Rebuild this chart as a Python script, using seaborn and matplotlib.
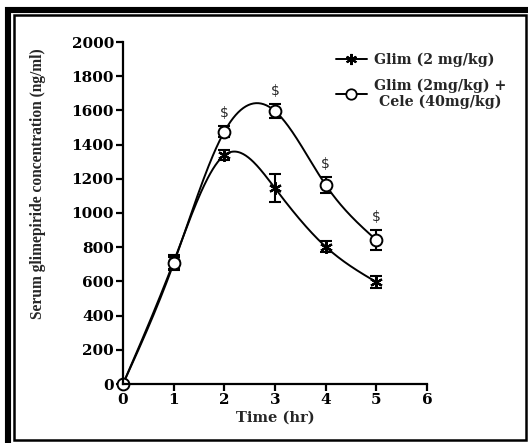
import numpy as np
import pandas as pd
import matplotlib
matplotlib.use("Agg")
import matplotlib.pyplot as plt
import seaborn as sns
from matplotlib.lines import Line2D
from matplotlib.patches import Rectangle

# ---- data ----
time_hr = [0, 1, 2, 3, 4, 5]
glim_mean = [0, 715, 1338, 1145, 803, 596]
glim_err = [0, 40, 30, 83, 33, 37]
combo_mean = [0, 705, 1476, 1596, 1164, 842]
combo_err = [0, 40, 33, 43, 47, 60]
sig_marks = ["", "", "$", "$", "$", "$"]
series_names = ["Glim (2 mg/kg)", "Glim (2mg/kg) +\nCele (40mg/kg)"]
x_ticks = [0, 1, 2, 3, 4, 5, 6]
y_ticks = [0, 200, 400, 600, 800, 1000, 1200, 1400, 1600, 1800, 2000]


def natural_spline(x, y, xs):
    x = np.asarray(x, float)
    y = np.asarray(y, float)
    n = len(x)
    h = np.diff(x)
    A = np.zeros((n, n))
    b = np.zeros(n)
    A[0, 0] = 1
    A[-1, -1] = 1
    for i in range(1, n - 1):
        A[i, i - 1] = h[i - 1]
        A[i, i] = 2 * (h[i - 1] + h[i])
        A[i, i + 1] = h[i]
        b[i] = 6 * ((y[i + 1] - y[i]) / h[i] - (y[i] - y[i - 1]) / h[i - 1])
    M = np.linalg.solve(A, b)
    out = np.empty_like(xs)
    for k, xv in enumerate(xs):
        i = min(max(np.searchsorted(x, xv) - 1, 0), n - 2)
        t0 = x[i + 1] - xv
        t1 = xv - x[i]
        out[k] = (M[i] * t0 ** 3 + M[i + 1] * t1 ** 3) / (6 * h[i]) + \
                 (y[i] / h[i] - M[i] * h[i] / 6) * t0 + \
                 (y[i + 1] / h[i] - M[i + 1] * h[i] / 6) * t1
    return out


sns.set_style("ticks")
plt.rcParams["font.family"] = ["DejaVu Serif"]

W, H = 528, 443
fig = plt.figure(figsize=(W / 100, H / 100), dpi=100)
ax = fig.add_axes([123 / W, 1 - 384 / H, (427 - 123) / W, (384 - 42) / H])

xs = np.linspace(0, 5, 300)
curve = pd.DataFrame({
    "x": np.concatenate([xs, xs]),
    "y": np.concatenate([natural_spline(time_hr, glim_mean, xs),
                         natural_spline(time_hr, combo_mean, xs)]),
    "s": [series_names[0]] * len(xs) + [series_names[1]] * len(xs),
})
sns.lineplot(data=curve, x="x", y="y", hue="s", palette=["black", "black"],
             linewidth=1.4, legend=False, ax=ax, clip_on=False)

ax.errorbar(time_hr, glim_mean, yerr=glim_err, fmt="none", ecolor="black",
            elinewidth=1.5, capsize=4.5, capthick=1.5, clip_on=False)
ax.errorbar(time_hr, combo_mean, yerr=combo_err, fmt="none", ecolor="black",
            elinewidth=1.5, capsize=4.5, capthick=1.5, clip_on=False)

ax.plot(time_hr, glim_mean, linestyle="none", marker=(6, 2, 0), markersize=9,
        markeredgewidth=1.6, color="black", clip_on=False)
ax.plot(time_hr, combo_mean, linestyle="none", marker="o", markersize=8.5,
        markerfacecolor="white", markeredgecolor="black", markeredgewidth=1.4,
        clip_on=False)

for xv, m, e, s in zip(time_hr, combo_mean, combo_err, sig_marks):
    if s:
        ax.annotate(s, (xv, m + e), xytext=(0, 4), textcoords="offset points",
                    ha="center", va="bottom", fontsize=10, family="DejaVu Sans",
                    parse_math=False)

ax.set_xlim(0, 6)
ax.set_ylim(0, 2000)
ax.set_xticks(x_ticks)
ax.set_yticks(y_ticks)
ax.set_xticklabels([str(v) for v in x_ticks], fontsize=11, fontweight="bold")
ax.set_yticklabels([str(v) for v in y_ticks], fontsize=11, fontweight="bold")
sns.despine(ax=ax)
for sp in ["left", "bottom"]:
    ax.spines[sp].set_linewidth(1.6)
    ax.spines[sp].set_color("black")
ax.tick_params(axis="both", length=5, width=1.6, color="black", pad=1.5,
               labelcolor="black")
ax.set_xlabel("Time (hr)", fontsize=10.5, fontweight="bold", labelpad=2.5)
ax.set_ylabel("Serum glimepiride concentration (ng/ml)", fontsize=11.2,
              fontweight="bold", family="Liberation Serif")
ax.yaxis.set_label_coords((46 - 123) / 304, (384 - 184) / 342)

handles = [
    Line2D([], [], color="black", lw=1.4, marker=(6, 2, 0), markersize=8,
           markeredgewidth=1.5),
    Line2D([], [], color="black", lw=1.4, marker="o", markersize=7.5,
           markerfacecolor="white", markeredgewidth=1.3),
]
leg = ax.legend(handles, series_names, loc="upper left",
                bbox_to_anchor=(330 / W, 1 - 47 / H), bbox_transform=fig.transFigure,
                frameon=False, handlelength=2.2, handletextpad=0.5,
                labelspacing=0.8, borderaxespad=0,
                prop={"family": "DejaVu Serif", "weight": "bold", "size": 10.2})
for t in leg.get_texts():
    t.set_multialignment("center")

# double frame around the picture
def fx(px):
    return px / W

def fy(py):
    return 1 - py / H

fig.add_artist(Rectangle((fx(8), fy(448)), fx(540) - fx(8), fy(10) - fy(448),
                         transform=fig.transFigure, fill=False,
                         edgecolor="black", linewidth=4.4))
fig.add_artist(Rectangle((fx(13.5), fy(439.5)), fx(525.5) - fx(13.5),
                         fy(15) - fy(439.5), transform=fig.transFigure,
                         fill=False, edgecolor="black", linewidth=1.8))

fig.savefig("out.png", dpi=100)
